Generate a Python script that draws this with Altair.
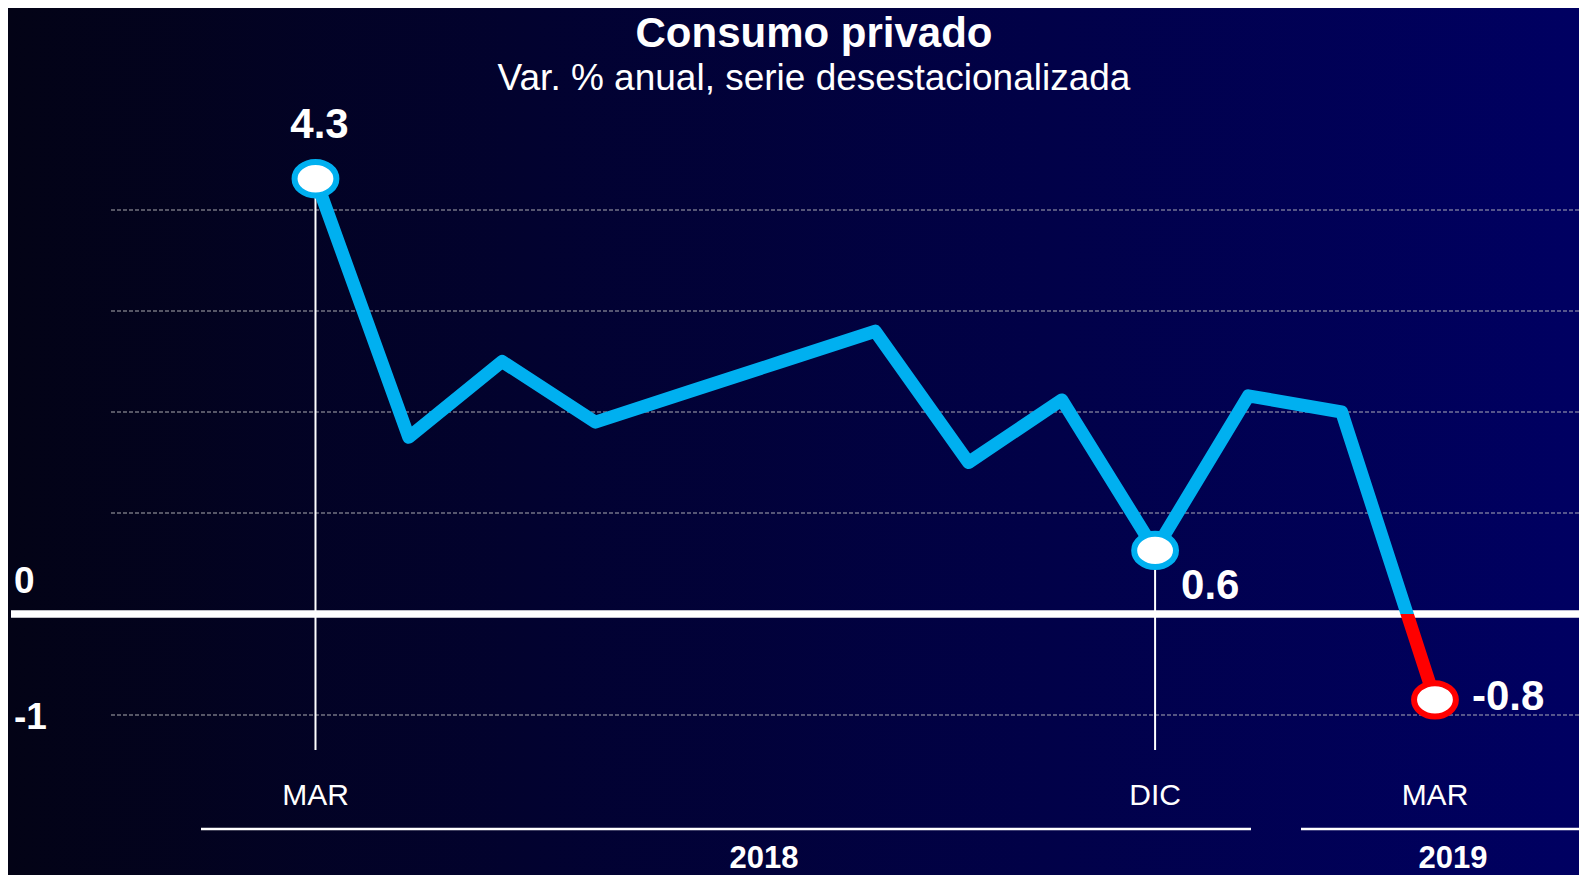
import altair as alt
import pandas as pd

# ---------------- data ----------------
title = "Consumo privado"
subtitle = "Var. % anual, serie desestacionalizada"
months = ["MAR", "ABR", "MAY", "JUN", "JUL", "AGO", "SEP", "OCT", "NOV", "DIC", "ENE", "FEB", "MAR"]
years = ["2018"] * 10 + ["2019"] * 3
values = [4.31, 1.75, 2.5, 1.9, 2.2, 2.5, 2.8, 1.5, 2.12, 0.63, 2.16, 2.0, -0.85]
highlight_idx = [0, 9, 12]
highlight_text = ["4.3", "0.6", "-0.8"]
grid_values = [-1, 1, 2, 3, 4]
zero_value = [0]
ytick_labels = ["0", "-1"]
year_names = ["2018", "2019"]

# ---------------- styling ----------------
W, H = 1571, 867
FONT = "Liberation Sans"
BLUE = "#00b0f0"
RED = "#ff0000"
WHITE = "#ffffff"

df = pd.DataFrame({"i": list(range(len(values))), "mes": months, "anio": years, "v": values})
hl = df.iloc[highlight_idx].copy().reset_index(drop=True)
hl["txt"] = highlight_text

xs = alt.Scale(domain=[-3.296, 13.544], nice=False, zero=False)
ys = alt.Scale(domain=[-2.584, 6.0], nice=False, zero=False)
X = alt.X("i:Q", scale=xs, axis=None)
Y = alt.Y("v:Q", scale=ys, axis=None)

vmax, vmin = max(values), min(values)
off = vmax / (vmax - vmin)

bg = alt.Chart(pd.DataFrame({"a": [0]})).mark_rect(
    fill=alt.Gradient(
        gradient="linear",
        stops=[alt.GradientStop(color="#030316", offset=0),
               alt.GradientStop(color="#000062", offset=1)],
        x1=0, x2=1, y1=0, y2=0,
    )
).encode(x=alt.value(0), x2=alt.value(W), y=alt.value(0), y2=alt.value(H))

grid = alt.Chart(pd.DataFrame({"v": grid_values})).mark_rule(
    color="#c8c8c8", strokeWidth=1, strokeDash=[4, 2], opacity=0.85
).encode(y=Y, x=alt.value(103), x2=alt.value(W))

zero = alt.Chart(pd.DataFrame({"v": zero_value})).mark_rule(
    color=WHITE, strokeWidth=7.5
).encode(y=Y, x=alt.value(3), x2=alt.value(W))

ylab0 = alt.Chart(pd.DataFrame({"v": [0], "t": [ytick_labels[0]]})).mark_text(
    align="left", baseline="alphabetic", dy=-21, fontSize=37, fontWeight="bold", font=FONT, color=WHITE
).encode(x=alt.value(6), y=Y, text="t:N")

ylab1 = alt.Chart(pd.DataFrame({"v": [-1], "t": [ytick_labels[1]]})).mark_text(
    align="left", baseline="alphabetic", dy=14, fontSize=37, fontWeight="bold", font=FONT, color=WHITE
).encode(x=alt.value(6), y=Y, text="t:N")

drops = alt.Chart(hl[hl["v"] > 0]).mark_rule(color=WHITE, strokeWidth=2).encode(
    x=X, y=Y, y2=alt.value(742)
)

line = alt.Chart(df).mark_line(
    stroke=alt.Gradient(
        gradient="linear",
        stops=[alt.GradientStop(color=BLUE, offset=0),
               alt.GradientStop(color=BLUE, offset=off),
               alt.GradientStop(color=RED, offset=off),
               alt.GradientStop(color=RED, offset=1)],
        x1=0, x2=0, y1=0, y2=1,
    ),
    strokeWidth=13, strokeJoin="round",
).encode(x=X, y=Y, order="i:Q")

ELLIPSE = "M-1,0A1,0.8,0,1,1,1,0A1,0.8,0,1,1,-1,0Z"
pts = alt.Chart(hl).mark_point(
    shape=ELLIPSE, size=1750, fill=WHITE, fillOpacity=1, strokeWidth=6, opacity=1
).encode(
    x=X, y=Y,
    stroke=alt.condition("datum.v < 0", alt.value(RED), alt.value(BLUE)),
)

lab_style = dict(fontSize=42, fontWeight="bold", font=FONT, color=WHITE, baseline="alphabetic")
lab0 = alt.Chart(hl.iloc[[0]]).mark_text(align="center", dx=4, dy=-41, **lab_style).encode(x=X, y=Y, text="txt:N")
lab1 = alt.Chart(hl.iloc[[1]]).mark_text(align="left", dx=26, dy=49, **lab_style).encode(x=X, y=Y, text="txt:N")
lab2 = alt.Chart(hl.iloc[[2]]).mark_text(align="left", dx=37, dy=10, **lab_style).encode(x=X, y=Y, text="txt:N")

mlab = alt.Chart(hl).mark_text(
    align="center", baseline="alphabetic", fontSize=30, font=FONT, color=WHITE
).encode(x=X, y=alt.value(797), text="mes:N")

yr_rule18 = alt.Chart(pd.DataFrame({"a": [0]})).mark_rule(color=WHITE, strokeWidth=2.5).encode(
    x=alt.value(193), x2=alt.value(1243), y=alt.value(821))
yr_rule19 = alt.Chart(pd.DataFrame({"a": [0]})).mark_rule(color=WHITE, strokeWidth=2.5).encode(
    x=alt.value(1293), x2=alt.value(W), y=alt.value(821))
yr18 = alt.Chart(pd.DataFrame({"t": [year_names[0]]})).mark_text(
    align="center", baseline="alphabetic", fontSize=31, fontWeight="bold", font=FONT, color=WHITE
).encode(x=alt.value(756), y=alt.value(860), text="t:N")
yr19 = alt.Chart(pd.DataFrame({"t": [year_names[1]]})).mark_text(
    align="center", baseline="alphabetic", fontSize=31, fontWeight="bold", font=FONT, color=WHITE
).encode(x=alt.value(1445), y=alt.value(860), text="t:N")

ttl = alt.Chart(pd.DataFrame({"t": [title]})).mark_text(
    align="center", baseline="alphabetic", fontSize=42, fontWeight="bold", font=FONT, color=WHITE
).encode(x=alt.value(806), y=alt.value(39), text="t:N")
sub = alt.Chart(pd.DataFrame({"t": [subtitle]})).mark_text(
    align="center", baseline="alphabetic", fontSize=37, font=FONT, color=WHITE
).encode(x=alt.value(806), y=alt.value(82), text="t:N")

chart = alt.layer(
    bg, grid, zero, ylab0, ylab1, drops, line, pts, lab0, lab1, lab2, mlab,
    yr_rule18, yr_rule19, yr18, yr19, ttl, sub
).properties(
    width=W, height=H, autosize=alt.AutoSizeParams(type="none"), padding=0
).configure_view(stroke=None).configure(background="#020214")

chart.save("out.html", embed_options={"renderer": "svg", "actions": False})
